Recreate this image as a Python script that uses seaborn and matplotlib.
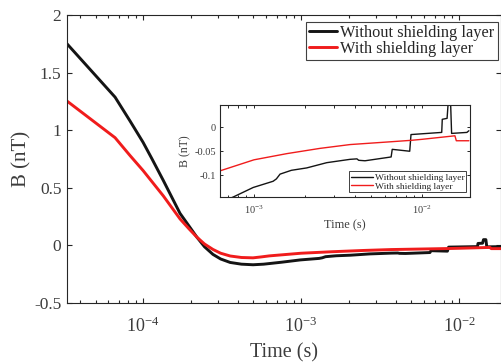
import numpy as np
import pandas as pd
import matplotlib
matplotlib.use("Agg")
import matplotlib.pyplot as plt
import seaborn as sns
from matplotlib.ticker import FixedLocator, FixedFormatter, LogLocator, NullFormatter

# ---- data ----
t_without = [3.30e-5, 6.65e-5, 8.27e-5, 1.0e-4, 1.135e-4, 1.343e-4, 1.714e-4, 1.95e-4,
             2.19e-4, 2.45e-4, 2.77e-4, 3.1e-4, 3.56e-4, 4.2e-4, 4.97e-4, 5.8e-4,
             7.53e-4, 9.9e-4, 1.30e-3, 1.36e-3, 1.43e-3,
             1.67e-3, 2.06e-3, 2.71e-3, 3.73e-3, 4.1e-3, 4.2e-3, 4.58e-3, 6.55e-3,
             6.65e-3, 8.45e-3, 8.6e-3, 1.31e-2, 1.32e-2, 1.41e-2, 1.43e-2, 1.48e-2,
             1.50e-2, 1.85e-2, 1.90e-2]
b_without = [1.75, 1.287, 1.08, 0.895, 0.755, 0.564, 0.278, 0.170,
             0.072, -0.012, -0.078, -0.118, -0.148, -0.163, -0.168, -0.163,
             -0.146, -0.126, -0.113, -0.108, -0.098,
             -0.090, -0.085, -0.074, -0.067, -0.066, -0.069, -0.070, -0.062,
             -0.046, -0.050, -0.015, -0.0105, 0.017, 0.019, 0.050, 0.050,
             -0.0126, -0.0105, -0.007]

t_with = [3.30e-5, 6.65e-5, 8.27e-5, 1.0e-4, 1.343e-4, 1.714e-4, 1.95e-4, 2.19e-4,
          2.45e-4, 2.77e-4, 3.1e-4, 3.56e-4, 4.2e-4, 4.97e-4, 5.6e-4, 6.3e-4,
          1.0e-3, 1.57e-3, 2.47e-3, 3.73e-3, 6.6e-3,
          8.7e-3, 1.0e-2, 1.57e-2, 1.60e-2, 1.90e-2]
b_with = [1.253, 0.935, 0.78, 0.65, 0.43, 0.23, 0.145, 0.072,
          0.012, -0.035, -0.068, -0.092, -0.105, -0.108, -0.100, -0.091,
          -0.068, -0.055, -0.044, -0.036, -0.030,
          -0.027, -0.025, -0.0176, -0.028, -0.028]

labels = ["Without shielding layer", "With shielding layer"]
main_yticks = [-0.5, 0, 0.5, 1, 1.5, 2]
main_yticklabels = ["-0.5", "0", "0.5", "1", "1.5", "2"]
inset_yticks = [-0.1, -0.05, 0]
inset_yticklabels = ["-0.1", "-0.05", "0"]

df = pd.concat([
    pd.DataFrame({"t": t_without, "B": b_without, "series": labels[0]}),
    pd.DataFrame({"t": t_with, "B": b_with, "series": labels[1]}),
], ignore_index=True)

sns.set_style("ticks")
plt.rcParams["font.family"] = ["Liberation Serif", "DejaVu Serif"]
plt.rcParams["mathtext.fontset"] = "custom"
plt.rcParams["mathtext.rm"] = "Liberation Serif"
plt.rcParams["mathtext.it"] = "Liberation Serif:italic"
plt.rcParams["mathtext.bf"] = "Liberation Serif:bold"
plt.rcParams["axes.unicode_minus"] = False

txt = "#3c3c3c"
palette = {labels[0]: "#141414", labels[1]: "#f01c1c"}

fig = plt.figure(figsize=(5.01, 3.62), dpi=100)
ax = fig.add_axes([67 / 501, 1 - 303 / 362, (500.5 - 67) / 501, (303 - 15) / 362])

sns.lineplot(data=df, x="t", y="B", hue="series", palette=palette, estimator=None,
             sort=False, linewidth=2.1, ax=ax, legend=False)
ax.set_xscale("log")
ax.set_xlim(3.3e-5, 0.01832)
ax.set_ylim(-0.5, 2)
ax.yaxis.set_major_locator(FixedLocator(main_yticks))
ax.yaxis.set_major_formatter(FixedFormatter(main_yticklabels))
ax.xaxis.set_major_locator(LogLocator(base=10, numticks=10))
ax.xaxis.set_minor_locator(LogLocator(base=10, subs=np.arange(2, 10), numticks=20))
ax.xaxis.set_minor_formatter(NullFormatter())
ax.tick_params(axis="both", which="both", direction="in", top=True, right=True,
               colors="#262626", labelcolor=txt, width=0.8)
ax.tick_params(axis="both", which="major", length=3.5, labelsize=12.5)
ax.tick_params(axis="x", which="major", labelsize=13, pad=9.5)
ax.tick_params(axis="y", which="major", pad=4)
ax.tick_params(axis="both", which="minor", length=2.5)
for s in ax.spines.values():
    s.set_color("#262626")
    s.set_linewidth(0.8)
ax.set_xlabel("Time (s)", fontsize=14.5, color=txt, labelpad=5.5)
ax.set_ylabel("B (nT)", fontsize=15, color=txt, labelpad=2)

lines = ax.get_lines()
leg = ax.legend(lines[:2], labels, loc="upper right", bbox_to_anchor=(0.9935, 0.977),
                fontsize=11.8, frameon=True, fancybox=False, edgecolor="#404040",
                framealpha=1, borderpad=0.2, labelspacing=0.0, handlelength=1.7,
                handletextpad=0.2, borderaxespad=0)
leg.get_frame().set_linewidth(0.8)

# ---- inset ----
axi = fig.add_axes([220 / 501, 1 - 197 / 362, (470 - 220) / 501, (197 - 105) / 362])
sns.lineplot(data=df, x="t", y="B", hue="series", palette=palette, estimator=None,
             sort=False, linewidth=1.0, ax=axi, legend=False)
axi.set_xscale("log")
axi.set_xlim(6.28e-4, 0.0193)
axi.set_ylim(-0.146, 0.047)
axi.yaxis.set_major_locator(FixedLocator(inset_yticks))
axi.yaxis.set_major_formatter(FixedFormatter(inset_yticklabels))
axi.xaxis.set_major_locator(LogLocator(base=10, numticks=10))
axi.xaxis.set_minor_locator(LogLocator(base=10, subs=np.arange(2, 10), numticks=20))
axi.xaxis.set_minor_formatter(NullFormatter())
axi.tick_params(axis="both", which="both", direction="in", top=True, right=True,
                colors="#262626", labelcolor=txt, width=0.7)
axi.tick_params(axis="both", which="major", length=2.5, labelsize=7.5)
axi.tick_params(axis="x", which="major", pad=5)
axi.tick_params(axis="y", which="major", pad=3)
axi.tick_params(axis="both", which="minor", length=1.8)
for s in axi.spines.values():
    s.set_color("#262626")
    s.set_linewidth(0.8)
axi.set_xlabel("Time (s)", fontsize=8.8, color=txt, labelpad=2)
axi.set_ylabel("B (nT)", fontsize=8.5, color=txt, labelpad=2)
li = axi.get_lines()
legi = axi.legend(li[:2], labels, loc="lower right", bbox_to_anchor=(0.985, 0.05),
                  fontsize=6.8, frameon=True, fancybox=False, edgecolor="#404040",
                  framealpha=1, borderpad=0.2, labelspacing=0.0, handlelength=2.4,
                  handletextpad=0.15, borderaxespad=0)
legi.get_frame().set_linewidth(0.7)

fig.savefig("out.png", dpi=100)
